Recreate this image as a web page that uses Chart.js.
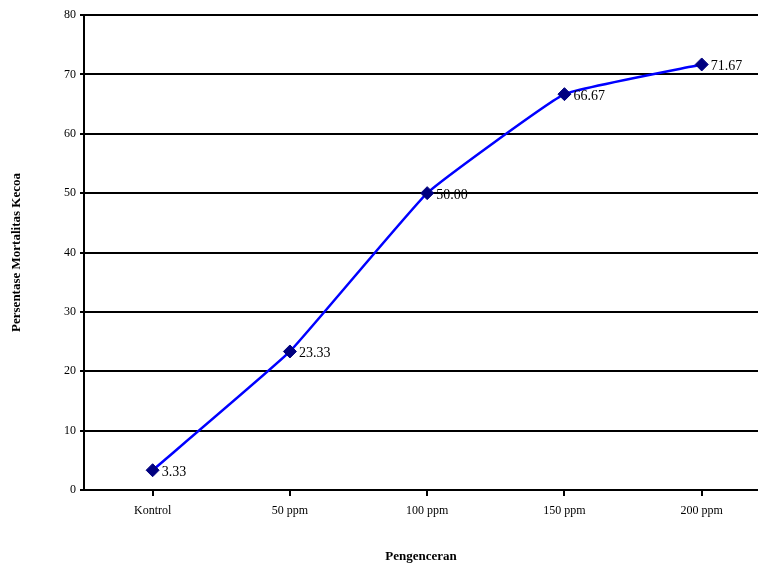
<!DOCTYPE html>
<html>
<head>
<meta charset="utf-8">
<script src="https://cdn.jsdelivr.net/npm/chart.js@4.4.0/dist/chart.umd.min.js"></script>
<style>
  html, body { margin: 0; padding: 0; background: #ffffff; }
  #wrap { width: 758px; height: 568px; position: relative; }
</style>
</head>
<body>
<div id="wrap"><canvas id="chart"></canvas></div>
<script>
// --- Chart data ---
const categories = ['Kontrol', '50 ppm', '100 ppm', '150 ppm', '200 ppm'];
const mortality = [3.33, 23.33, 50.00, 66.67, 71.67];
const yTicks = [0, 10, 20, 30, 40, 50, 60, 70, 80];

const serif = "'Liberation Serif', 'Times New Roman', serif";

// draws the value next to each marker
const valueLabels = {
    id: 'valueLabels',
    afterDatasetsDraw(chart) {
        const ctx = chart.ctx;
        const meta = chart.getDatasetMeta(0);
        ctx.save();
        ctx.font = '14px ' + serif;
        ctx.fillStyle = '#000000';
        ctx.textAlign = 'left';
        ctx.textBaseline = 'middle';
        meta.data.forEach((pt, i) => {
            ctx.fillText(mortality[i].toFixed(2), pt.x + 9, pt.y + 2);
        });
        ctx.restore();
    }
};

const ctx = document.getElementById('chart').getContext('2d');
new Chart(ctx, {
    type: 'line',
    data: {
        datasets: [{
            data: mortality.map((v, i) => ({ x: i, y: v })),
            borderColor: '#0000ff',
            borderWidth: 2.5,
            tension: 0.1,
            pointStyle: 'rectRot',
            pointRadius: 6.5,
            pointBackgroundColor: '#000080',
            pointBorderColor: '#000080',
            pointBorderWidth: 1
        }]
    },
    options: {
        responsive: true,
        maintainAspectRatio: false,
        animation: false,
        layout: { autoPadding: false, padding: { top: 15, right: 0, bottom: 4, left: 9 } },
        plugins: {
            legend: { display: false },
            tooltip: { enabled: false }
        },
        scales: {
            x: {
                type: 'linear',
                min: -0.5,
                max: 4.41,
                afterBuildTicks: (scale) => {
                    scale.ticks = categories.map((c, i) => ({ value: i }));
                },
                afterFit: (scale) => { scale.height = 74; },
                ticks: {
                    callback: (value) => categories[value],
                    color: '#000000',
                    font: { family: serif, size: 12 },
                    padding: 8,
                    maxRotation: 0
                },
                grid: {
                    drawOnChartArea: false,
                    drawTicks: true,
                    tickLength: 6,
                    color: '#000000',
                    lineWidth: 2
                },
                border: { color: '#000000', width: 2 },
                title: {
                    display: true,
                    text: 'Pengenceran',
                    color: '#000000',
                    font: { family: serif, size: 13, weight: 'bold' },
                    padding: { top: 0, bottom: 0 }
                }
            },
            y: {
                min: 0,
                max: 80,
                afterBuildTicks: (scale) => {
                    scale.ticks = yTicks.map(v => ({ value: v }));
                },
                afterFit: (scale) => { scale.width = 75; },
                ticks: {
                    color: '#000000',
                    font: { family: serif, size: 12 },
                    padding: 4
                },
                grid: {
                    color: '#000000',
                    lineWidth: 2,
                    tickLength: 4
                },
                border: { color: '#000000', width: 2 },
                title: {
                    display: true,
                    text: 'Persentase Mortalitas Kecoa',
                    color: '#000000',
                    font: { family: serif, size: 13, weight: 'bold' },
                    padding: { top: 0, bottom: 0 }
                }
            }
        }
    },
    plugins: [valueLabels]
});
</script>
</body>
</html>
